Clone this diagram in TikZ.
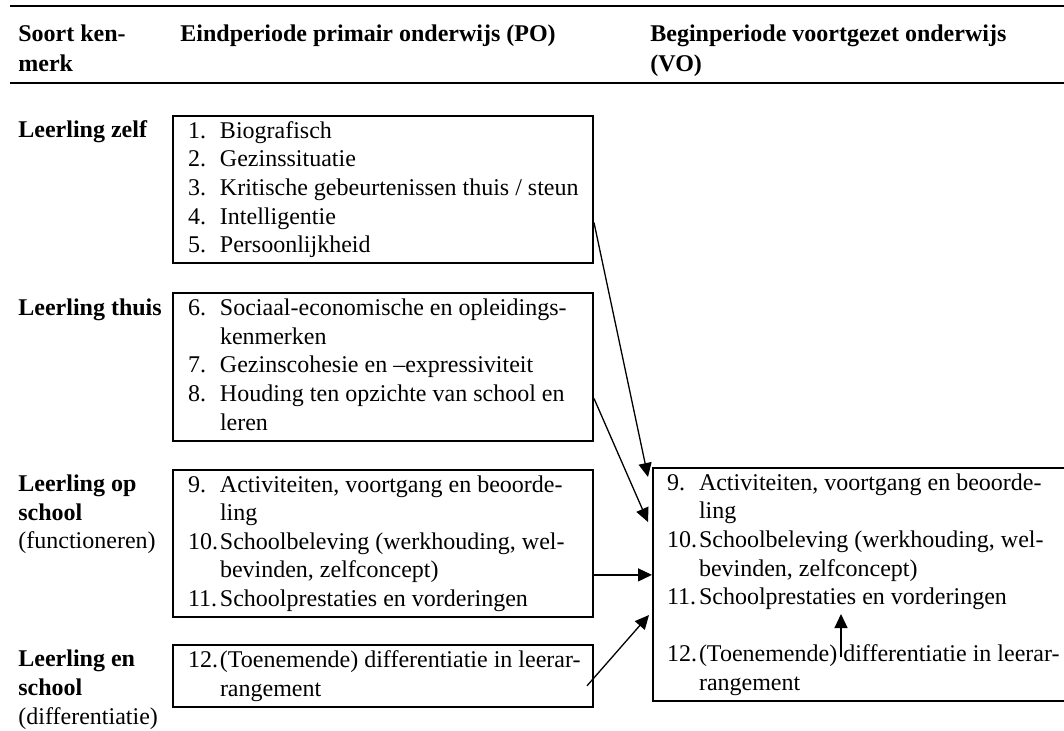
\documentclass[tikz,border=0pt]{standalone}
\usepackage{fontspec}
\setmainfont{Liberation Serif}
\usepackage{tikz}
\usetikzlibrary{positioning}
\usetikzlibrary{calc}
\usetikzlibrary{arrows.meta}
\setlength{\parindent}{0pt}
\newcommand{\punten}[2]{\makebox[#1][l]{\begin{tabular}{@{}p{16pt}@{}l@{}}#2\end{tabular}}}
\newcommand{\regels}[1]{\begin{tabular}{@{}l@{}}#1\end{tabular}}
\tikzset{
    kenmerk/.style={draw, line width=1pt, anchor=north west,
            inner xsep=7.5pt, inner ysep=1.1pt,
            font=\fontsize{12}{14.3}\selectfont},
    soort/.style={anchor=north west, inner xsep=0pt, inner ysep=1.1pt,
            font=\fontsize{12}{14.3}\selectfont},
    kop/.style={anchor=north west, inner sep=0pt,
            font=\fontsize{12}{15}\selectfont\bfseries},
    pijl/.style={-{Triangle[length=7pt,width=6.5pt]}, line width=0.65pt},
    regel/.style={line width=1.3pt}
}

\begin{document}
\begin{tikzpicture}[x=0.5pt, y=-0.5pt]
        \useasboundingbox (0,0) rectangle (1064,730);

        % kop van de tabel
        \draw [regel] (10,6) -- (1064,6);
        \draw [regel] (10,83) -- (1064,83);
        \node [kop] (soortkop) at (18,20) {\regels{Soort ken-\\merk}};
        \node [kop] (pokop) at (180,20) {\regels{Eindperiode primair onderwijs (PO)}};
        \node [kop] (vokop) at (650,20) {\regels{Beginperiode voortgezet onderwijs\\(VO)}};

        % kenmerken PO
        \node [kenmerk] (zelf) at (172,115) {\punten{195pt}{%
            1. & Biografisch\\
            2. & Gezinssituatie\\
            3. & Kritische gebeurtenissen thuis / steun\\
            4. & Intelligentie\\
            5. & Persoonlijkheid}};
        \node [kenmerk, below=14pt of zelf.south west, anchor=north west] (thuis) {\punten{195pt}{%
            6. & Sociaal-economische en opleidings-\\
               & kenmerken\\
            7. & Gezinscohesie en --expressiviteit\\
            8. & Houding ten opzichte van school en\\
               & leren}};
        \node [kenmerk, below=13.5pt of thuis.south west, anchor=north west] (fun) {\punten{195pt}{%
            9. & Activiteiten, voortgang en beoorde-\\
               & ling\\
            10. & Schoolbeleving (werkhouding, wel-\\
               & bevinden, zelfconcept)\\
            11. & Schoolprestaties en vorderingen}};
        \node [kenmerk, below=13pt of fun.south west, anchor=north west] (diff) {\punten{195pt}{%
            12. & (Toenemende) differentiatie in leerar-\\
               & rangement}};

        % kenmerken VO
        \node [kenmerk, inner xsep=7pt] (vo) at (652,467) {\punten{195pt}{%
            9. & Activiteiten, voortgang en beoorde-\\
               & ling\\
            10. & Schoolbeleving (werkhouding, wel-\\
               & bevinden, zelfconcept)\\
            11. & Schoolprestaties en vorderingen\\
               & \\
            12. & (Toenemende) differentiatie in leerar-\\
               & rangement}};

        % soort kenmerk
        \coordinate (links) at (18,0);
        \node [soort] (lzelf) at (zelf.north west -| links) {\regels{\textbf{Leerling zelf}}};
        \node [soort] (lthuis) at (thuis.north west -| links) {\regels{\textbf{Leerling thuis}}};
        \node [soort] (lfun) at (fun.north west -| links) {\regels{\textbf{Leerling op}\\\textbf{school}\\(functioneren)}};
        \node [soort] (ldiff) at (diff.north west -| links) {\regels{\textbf{Leerling en}\\\textbf{school}\\(differentiatie)}};

        % pijlen
        \coordinate (z1) at ($(zelf.north east)!0.72!(zelf.south east)$);
        \coordinate (t1) at ($(thuis.north east)!0.71!(thuis.south east)$);
        \coordinate (f1) at ($(fun.north east)!0.71!(fun.south east)$);
        \coordinate (d1) at ($(diff.south east)+(-7,-22)$);
        \coordinate (v12) at ($(vo.north west)+(189,190)$);
        \coordinate (v11) at ($(vo.north west)+(189,147)$);
        \draw [pijl] (z1) -- ($(vo.north west)+(-4,10)$);
        \draw [pijl] (t1) -- ($(vo.north west)+(-4,55)$);
        \draw [pijl] (f1) -- (f1 -| vo.west);
        \draw [pijl] (d1) -- ($(vo.north west)+(-3,148)$);
        \draw [pijl] (v12) -- (v11);
\end{tikzpicture}
\end{document}
